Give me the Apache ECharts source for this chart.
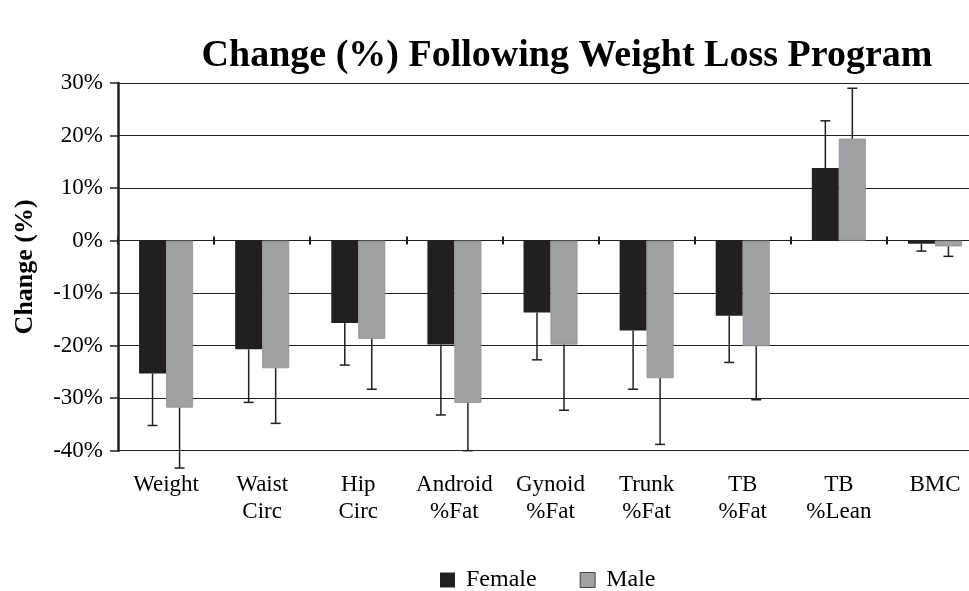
<!DOCTYPE html>
<html>
<head>
<meta charset="utf-8">
<script src="https://cdn.jsdelivr.net/npm/echarts@6/dist/echarts.min.js"></script>
<style>html,body{margin:0;padding:0;background:#fff;}#c{width:969px;height:591px;}</style>
</head>
<body>
<div id="c"></div>
<script>
var categories = ['Weight', 'Waist\nCirc', 'Hip\nCirc', 'Android\n%Fat', 'Gynoid\n%Fat', 'Trunk\n%Fat', 'TB\n%Fat', 'TB\n%Lean', 'BMC'];
var femaleValues = [-25.3, -20.7, -15.7, -19.8, -13.7, -17.1, -14.3, 13.8, -0.6];
var femaleErrEnd = [-35.2, -30.8, -23.7, -33.2, -22.7, -28.3, -23.2, 22.8, -2.0];
var maleValues = [-31.8, -24.3, -18.7, -30.9, -19.8, -26.2, -20.1, 19.4, -1.1];
var maleErrEnd = [-43.3, -34.8, -28.3, -40.0, -32.3, -38.8, -30.3, 29.0, -3.0];
var yMin = -40, yMax = 30, yStep = 10;

var FONT = '"Liberation Serif", "Times New Roman", serif';
var INK = '#231f20';
var BAR_W = 27;

function errData(vals, ends) {
  return vals.map(function (v, i) { return [i, v, ends[i]]; });
}
function errRender(offset) {
  return function (params, api) {
    var i = api.value(0);
    var p0 = api.coord([i, api.value(1)]);
    var p1 = api.coord([i, api.value(2)]);
    var x = p0[0] + offset;
    var cap = 5;
    return {
      type: 'group',
      children: [
        { type: 'line', shape: { x1: x, y1: p0[1], x2: x, y2: p1[1] }, style: { stroke: INK, lineWidth: 1.5 } },
        { type: 'line', shape: { x1: x - cap, y1: p1[1], x2: x + cap, y2: p1[1] }, style: { stroke: INK, lineWidth: 1.5 } }
      ]
    };
  };
}

var gridBox = { left: 118, width: 865, top: 83, bottom: 140.3, containLabel: false, outerBoundsMode: 'none' };

var chart = echarts.init(document.getElementById('c'));
chart.setOption({
  animation: false,
  backgroundColor: '#fff',
  title: {
    text: 'Change (%) Following Weight Loss Program',
    left: 562, textAlign: 'center', top: 32,
    textStyle: { fontFamily: FONT, fontSize: 38, fontWeight: 'bold', color: '#000' }
  },
  legend: {
    left: 435, top: 563,
    itemWidth: 15, itemHeight: 15, itemGap: 43,
    icon: 'rect',
    textStyle: { fontFamily: FONT, fontSize: 24, color: '#000', padding: [0, 0, 0, 6] },
    data: [
      { name: 'Female' },
      { name: 'Male', itemStyle: { borderColor: '#444', borderWidth: 1 } }
    ]
  },
  grid: [
    Object.assign({}, gridBox),
    Object.assign({}, gridBox)
  ],
  xAxis: [
    {
      type: 'category', data: categories, position: 'bottom', gridIndex: 0,
      axisLine: { show: false, onZero: false }, axisTick: { show: false },
      axisLabel: { fontFamily: FONT, fontSize: 23, color: '#000', lineHeight: 27, margin: 21, interval: 0 },
      splitLine: { show: false }
    },
    {
      type: 'category', data: categories, position: 'bottom', gridIndex: 0,
      axisLine: { show: true, onZero: true, lineStyle: { color: INK, width: 1 } },
      axisTick: { show: true, inside: false, length: 4, lineStyle: { color: INK, width: 2 } },
      axisLabel: { show: false }
    },
    {
      type: 'category', data: categories, position: 'top', gridIndex: 1,
      axisLine: { show: false, onZero: true },
      axisTick: { show: true, inside: false, length: 4, lineStyle: { color: INK, width: 2 } },
      axisLabel: { show: false }
    }
  ],
  yAxis: [
    {
      type: 'value', min: yMin, max: yMax, interval: yStep, gridIndex: 0,
      name: 'Change (%)', nameLocation: 'middle', nameRotate: 90, nameGap: 80,
      nameTextStyle: { fontFamily: FONT, fontSize: 26, fontWeight: 'bold', color: '#000' },
      axisLine: { show: true, lineStyle: { color: INK, width: 2.5 } },
      axisTick: { show: true, length: 8, lineStyle: { color: INK, width: 1.5 } },
      axisLabel: { formatter: '{value}%', fontFamily: FONT, fontSize: 23, color: '#000', margin: 15 },
      splitLine: { show: true, lineStyle: { color: INK, width: 1.2 } }
    },
    {
      type: 'value', min: yMin, max: yMax, interval: yStep, gridIndex: 1,
      axisLine: { show: false }, axisTick: { show: false }, axisLabel: { show: false },
      splitLine: { show: false }
    }
  ],
  series: [
    {
      name: 'Female', type: 'bar', data: femaleValues, barWidth: BAR_W, barGap: '0%',
      itemStyle: { color: INK }
    },
    {
      name: 'Male', type: 'bar', data: maleValues, barWidth: BAR_W, barGap: '0%',
      itemStyle: { color: '#a0a1a4', borderColor: '#8d8e91', borderWidth: 0.8 }
    },
    {
      name: 'FemaleErr', type: 'custom', data: errData(femaleValues, femaleErrEnd),
      renderItem: errRender(-BAR_W / 2), encode: { x: 0, y: [1, 2] }, z: 5, clip: false
    },
    {
      name: 'MaleErr', type: 'custom', data: errData(maleValues, maleErrEnd),
      renderItem: errRender(BAR_W / 2), encode: { x: 0, y: [1, 2] }, z: 5, clip: false
    }
  ]
});
</script>
</body>
</html>
